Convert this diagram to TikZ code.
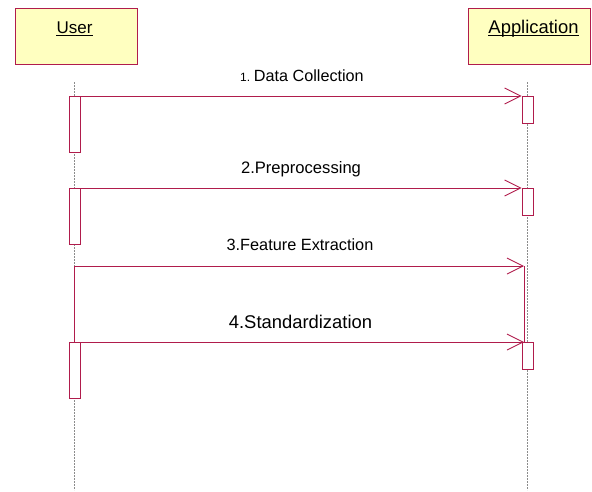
\documentclass[tikz,border=0pt]{standalone}
\usepackage{fontspec}
\setmainfont{Liberation Sans}
\usetikzlibrary{arrows.meta}
\definecolor{lc}{RGB}{176,28,76}
\definecolor{boxfill}{RGB}{255,255,192}
\definecolor{lifegray}{RGB}{140,140,140}
\begin{document}
\begin{tikzpicture}[x=1pt,y=-1pt,
  actor/.style={draw=lc, fill=boxfill, line width=0.9pt, minimum width=122pt, minimum height=56pt, inner sep=0pt},
  actlabel/.style={anchor=base, inner sep=0pt},
  uline/.style={draw=black, line width=1.4pt},
  life/.style={draw=lifegray, line width=0.6pt, dash pattern=on 2pt off 1pt},
  actbox/.style={draw=lc, fill=white, line width=0.9pt, minimum width=11pt, inner sep=0pt, anchor=north},
  msg/.style={draw=lc, line width=0.9pt, -{Straight Barb[length=16pt,width=16pt]}},
  plain/.style={draw=lc, line width=0.9pt},
  lbl/.style={anchor=base, inner sep=0pt}]
\useasboundingbox (0,0) rectangle (592,491);
% actors
\node[actor] (user) at (76,36) {};
\node[actor] (app) at (529,36) {};
\node[actlabel] (usert) at (74.5,33) {\fontsize{17}{20}\selectfont User};
\node[actlabel] (appt) at (533.5,33) {\fontsize{18.4}{22}\selectfont Application};
\draw[uline] ([yshift=-2.3pt]usert.base west) -- ([yshift=-2.3pt]usert.base east);
\draw[uline] ([yshift=-2.5pt]appt.base west) -- ([yshift=-2.5pt]appt.base east);
% lifelines
\coordinate (ul0) at (74.5,82);
\coordinate (ul1) at (74.5,490);
\coordinate (al0) at (527.5,82);
\coordinate (al1) at (527.5,490);
\draw[life] (ul0) -- (ul1);
\draw[life] (al0) -- (al1);
% activations
\node[actbox, minimum height=56pt] (ua1) at (74.5,96) {};
\node[actbox, minimum height=27pt] (aa1) at (527.5,96) {};
\node[actbox, minimum height=56pt] (ua2) at (74.5,188) {};
\node[actbox, minimum height=27pt] (aa2) at (527.5,188) {};
\node[actbox, minimum height=56pt] (ua3) at (74.5,342) {};
\node[actbox, minimum height=27pt] (aa3) at (527.5,342) {};
% messages
\draw[msg] (ua1.north east) -- (aa1.north west);
\draw[msg] (ua2.north east) -- (aa2.north west);
\coordinate (u3) at (74.5,266);
\coordinate (a3) at (524,266);
\coordinate (a4) at (524,342);
\draw[msg] (u3) -- (a3);
\draw[plain] (u3) -- (ua3.north);
\draw[plain] (a3) -- (a4);
\draw[msg] (ua3.north) -- (a4);
% labels
\node[lbl] (l1) at (302,81.5) {{\fontsize{12}{14}\selectfont 1.} {\fontsize{16.2}{19}\selectfont Data Collection}};
\node[lbl] (l2) at (301,173) {\fontsize{16.6}{19}\selectfont 2.Preprocessing};
\node[lbl] (l3) at (300,250) {\fontsize{16.3}{19}\selectfont 3.Feature Extraction};
\node[lbl] (l4) at (300.5,328) {\fontsize{18.4}{21}\selectfont 4.Standardization};
\end{tikzpicture}
\end{document}
